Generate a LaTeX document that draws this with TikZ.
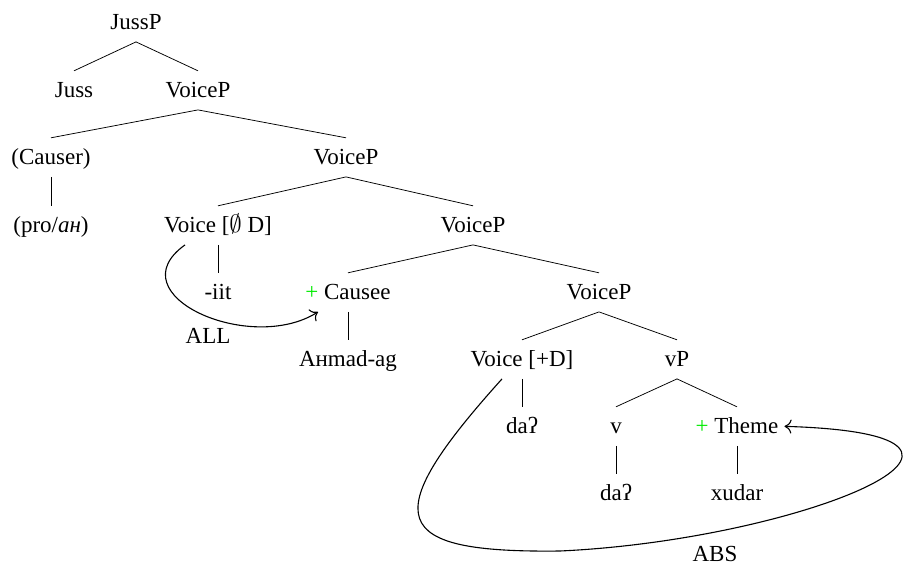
\documentclass[tikz,border=0pt]{standalone}
\usepackage{fontspec}
\setmainfont{Liberation Serif}
\usetikzlibrary{arrows.meta}
\definecolor{plusgreen}{RGB}{0,235,0}
\newcommand{\grplus}{\textcolor{plusgreen}{+}}
\begin{document}
\begin{tikzpicture}[x=1pt,y=-1pt,
  lbl/.style={anchor=base,inner xsep=0pt,inner ysep=0pt,text height=26pt,text depth=12.7pt,font=\fontsize{23}{27}\selectfont},
  branch/.style={line width=0.75pt},
  move/.style={line width=1.1pt,-{To[length=7pt,width=14pt]}}]
\useasboundingbox (0,0) rectangle (906,571);
% row 1
\node[lbl] (jussp) at (136,29) {JussP};
% row 2
\node[lbl] (juss) at (74,97) {Juss};
\node[lbl] (vp1) at (198,97) {VoiceP};
% row 3
\node[lbl] (causer) at (51,164) {(Causer)};
\node[lbl] (vp2) at (346,164) {VoiceP};
% row 4
\node[lbl] (pro) at (51,232) {(pro/\textit{aн})};
\node[lbl] (voice1) at (218,232) {Voice [$\emptyset$ D]};
\node[lbl] (vp3) at (473,232) {VoiceP};
% row 5
\node[lbl] (iit) at (218,299) {-iit};
\node[lbl] (causee) at (348,299) {\grplus{} Causee};
\node[lbl] (vp4) at (599,299) {VoiceP};
% row 6
\node[lbl] (ahmad) at (348,366) {Aнmad-ag};
\node[lbl] (voice2) at (522,366) {Voice [+D]};
\node[lbl] (vsp) at (677,366) {vP};
% row 7
\node[lbl] (da1) at (522,433) {daʔ};
\node[lbl] (v) at (616,433) {v};
\node[lbl] (theme) at (737,433) {\grplus{} Theme};
% row 8
\node[lbl] (da2) at (616,500) {daʔ};
\node[lbl] (xudar) at (737,500) {xudar};
% labels of movements
\node[lbl] (all) at (208,343) {ALL};
\node[lbl] (abs) at (715,561) {ABS};
% branches
\draw[branch] (juss.north) -- (jussp.south) -- (vp1.north);
\draw[branch] (causer.north) -- (vp1.south) -- (vp2.north);
\draw[branch] (causer.south) -- (pro.north);
\draw[branch] (voice1.north) -- (vp2.south) -- (vp3.north);
\draw[branch] (voice1.south) -- (iit.north);
\draw[branch] (causee.north) -- (vp3.south) -- (vp4.north);
\draw[branch] (causee.south) -- (ahmad.north);
\draw[branch] (voice2.north) -- (vp4.south) -- (vsp.north);
\draw[branch] (voice2.south) -- (da1.north);
\draw[branch] (v.north) -- (vsp.south) -- (theme.north);
\draw[branch] (v.south) -- (da2.north);
\draw[branch] (theme.south) -- (xudar.north);
% movements
\draw[move] ([xshift=-33pt]voice1.south) .. controls +(-70,50) and +(-68,43) .. ([xshift=-30pt]causee.south);
\coordinate (absbot) at (560,551);
\draw[move] ([xshift=-20pt]voice2.south) .. controls +(-127,141) and +(-170,2) .. (absbot)
  .. controls +(240,-11) and +(273,8) .. ([xshift=6pt]theme.east);
\end{tikzpicture}
\end{document}
